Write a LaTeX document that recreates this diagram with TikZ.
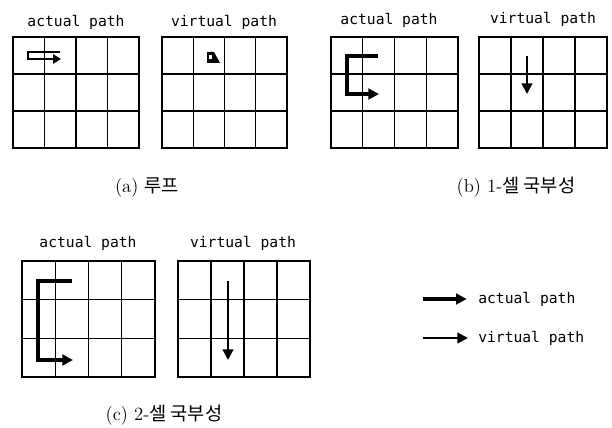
\documentclass[tikz,border=0pt]{standalone}
\usepackage{fontspec}
\usetikzlibrary{arrows.meta,positioning}
\newfontfamily\labelfont{DejaVu Sans Mono}
\newfontfamily\kofont{Noto Sans CJK KR}
\tikzset{
  gridline/.style={draw=black,line width=1pt},
  actual/.style={-{Triangle[length=8pt,width=8pt]},line width=2.3pt,line join=miter},
  virtual/.style={-{Triangle[length=8pt,width=8pt]},line width=1.6pt},
  title/.style={font=\labelfont\fontsize{11}{13}\selectfont,inner sep=0pt},
  caption/.style={font=\fontsize{14}{16}\selectfont,inner sep=0pt}
}
% 4 x 3 cell grid: x0, y0, x1, y1
\newcommand\cellgrid[4]{%
  \draw[gridline] (#1,#2) rectangle (#3,#4);
  \foreach \i in {1,2,3}
    \draw[gridline] ({#1+\i*(#3-#1)/4},#2) -- ({#1+\i*(#3-#1)/4},#4);
  \foreach \j in {1,2}
    \draw[gridline] (#1,{#2+\j*(#4-#2)/3}) -- (#3,{#2+\j*(#4-#2)/3});
}
\begin{document}
\begin{tikzpicture}[x=0.75pt,y=-0.75pt]
  \useasboundingbox (0,0) rectangle (612,428);

  % (a) loop
  \node[title] (ta1) at (76,22) {actual path};
  \node[title] (ta2) at (224,22) {virtual path};
  \cellgrid{13}{37}{139}{148}
  \cellgrid{162}{37}{287}{148}
  \draw[actual,-{Triangle[length=6pt,width=7pt]},line width=2.2pt] (60,52) -- (28,52) -- (28,59) -- (61,59);
  \fill (207,52) -- (214,52) -- (220,63) -- (207,63) -- cycle;
  \fill[white] (209,55) rectangle (212,59);
  \node[caption] (ca) at (147,187) {(a) {\kofont 루프}};

  % (b) 1-cell locality
  \node[title] (tb1) at (389,20) {actual path};
  \node[title] (tb2) at (543,19) {virtual path};
  \cellgrid{331}{37}{458}{148}
  \cellgrid{479}{37}{607}{148}
  \draw[actual] (378,56) -- (347,56) -- (347,94) -- (379,94);
  \draw[virtual] (527,56) -- (527,94);
  \node[caption] (cb) at (516,187) {(b) 1-{\kofont 셀 국부성}};

  % (c) 2-cell locality
  \node[title] (tc1) at (88,243) {actual path};
  \node[title] (tc2) at (243,243) {virtual path};
  \cellgrid{22}{261}{155}{377}
  \cellgrid{178}{261}{310}{377}
  \draw[actual] (72,281) -- (38,281) -- (38,360) -- (73,360);
  \draw[virtual] (228,281) -- (228,360);
  \node[caption] (cc) at (164,415) {(c) 2-{\kofont 셀 국부성}};

  % legend
  \coordinate (la0) at (423,299);
  \coordinate (lv0) at (423,338);
  \node[title,anchor=west] (la) at (478,299) {actual path};
  \node[title,anchor=west] (lv) at (478,338) {virtual path};
  \draw[actual] (la0) -- ([xshift=-8.5pt]la.west);
  \draw[virtual] (lv0) -- ([xshift=-7.5pt]lv.west);
\end{tikzpicture}
\end{document}
